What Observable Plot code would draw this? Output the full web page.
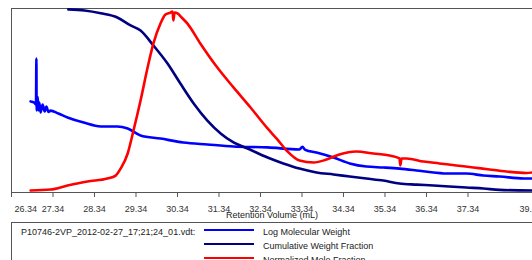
<!DOCTYPE html>
<html>
<head>
<meta charset="utf-8">
<script src="https://cdn.jsdelivr.net/npm/d3@7"></script>
<script src="https://cdn.jsdelivr.net/npm/@observablehq/plot@0.6"></script>
<style>
  html, body { margin: 0; padding: 0; background: #fff; }
  body { width: 532px; height: 260px; overflow: hidden; font-family: "Liberation Sans", Arial, sans-serif; }
  #chart svg { display: block; }
  #legend { position: relative; height: 40px; margin-left: 11px; border-top: 1px solid #555; border-left: 1px solid #555; font-size: 9px; color: #222; }
  #legend .t { position: absolute; line-height: 12px; white-space: nowrap; }
  #legend .sw { position: absolute; width: 50px; height: 0; border-top: 2px solid; }
</style>
</head>
<body>
<div id="chart"></div>
<div id="legend"></div>
<script>
// ---- data (y values as fraction of the plot height) ----
const fileName = "P10746-2VP_2012-02-27_17;21;24_01.vdt:";
const seriesNames = ["Log Molecular Weight", "Cumulative Weight Fraction", "Normalized Mole Fraction"];
const seriesColors = ["#0000ff", "#000080", "#ff0000"];

const tickValues = [26.34, 27.34, 28.34, 29.34, 30.34, 31.34, 32.34, 33.34, 34.34, 35.34, 36.34, 37.34];
const firstTickLabel = "26.34";
const lastTickLabel = "39.34";
const xAxisTitle = "Retention Volume (mL)";

const logMwVolume = [26.80, 26.89, 26.93, 26.94, 26.945, 26.97, 26.99, 27.01, 27.04, 27.09, 27.14, 27.18, 27.23, 27.28, 27.47, 27.69, 28.08, 28.49, 28.89, 29.14, 29.45, 29.93, 30.48, 31.06, 31.69, 32.51, 33.28, 33.35, 33.42, 33.69, 34.10, 34.49, 34.89, 35.30, 35.69, 36.10, 36.51, 36.89, 37.30, 37.71, 38.10, 38.68, 38.89];
const logMwValue  = [0.495, 0.489, 0.478, 0.728, 0.446, 0.520, 0.446, 0.489, 0.435, 0.478, 0.440, 0.467, 0.438, 0.445, 0.429, 0.408, 0.380, 0.359, 0.359, 0.348, 0.310, 0.293, 0.272, 0.261, 0.250, 0.245, 0.234, 0.248, 0.232, 0.217, 0.190, 0.158, 0.141, 0.136, 0.130, 0.120, 0.109, 0.103, 0.103, 0.092, 0.087, 0.076, 0.076];

const cumVolume = [27.71, 28.10, 28.49, 28.89, 29.21, 29.45, 29.76, 30.10, 30.41, 30.73, 31.06, 31.38, 31.69, 32.03, 32.51, 32.89, 33.28, 33.69, 34.10, 34.49, 34.89, 35.30, 35.69, 36.10, 36.51, 36.89, 37.30, 37.71, 38.10, 38.89];
const cumValue  = [0.995, 0.989, 0.974, 0.951, 0.908, 0.880, 0.799, 0.701, 0.592, 0.484, 0.391, 0.321, 0.272, 0.239, 0.190, 0.158, 0.130, 0.109, 0.098, 0.087, 0.076, 0.065, 0.049, 0.043, 0.038, 0.033, 0.027, 0.022, 0.014, 0.011];

const moleVolume = [26.80, 27.28, 27.69, 28.17, 28.65, 28.85, 28.97, 29.14, 29.28, 29.45, 29.62, 29.76, 29.93, 30.05, 30.17, 30.22, 30.24, 30.27, 30.34, 30.44, 30.58, 30.89, 31.30, 31.69, 32.10, 32.51, 32.73, 32.97, 33.28, 33.62, 33.93, 34.24, 34.65, 35.06, 35.45, 35.69, 35.71, 35.74, 35.86, 36.27, 36.65, 37.06, 37.47, 37.86, 38.27, 38.75, 38.89];
const moleValue  = [0.011, 0.016, 0.038, 0.060, 0.076, 0.092, 0.130, 0.212, 0.337, 0.500, 0.679, 0.810, 0.918, 0.967, 0.978, 0.984, 0.935, 0.978, 0.973, 0.951, 0.918, 0.810, 0.679, 0.571, 0.462, 0.348, 0.293, 0.228, 0.174, 0.163, 0.179, 0.207, 0.223, 0.212, 0.201, 0.185, 0.147, 0.185, 0.185, 0.168, 0.158, 0.147, 0.136, 0.125, 0.114, 0.106, 0.109];

// ---- tables ----
const logMwTable = logMwVolume.map((v, i) => ({v, y: logMwValue[i]}));
const cumTable = cumVolume.map((v, i) => ({v, y: cumValue[i]}));
const moleTable = moleVolume.map((v, i) => ({v, y: moleValue[i]}));

const axisColor = "#555";
const lineOpts = {x: "v", y: "y", strokeWidth: 2.6, curve: "monotone-x", strokeLinejoin: "round"};
const chart = Plot.plot({
  width: 532,
  height: 222,
  marginLeft: 11,
  marginRight: 0,
  marginTop: 8,
  marginBottom: 30,
  x: {domain: [26.34, 38.895]},
  y: {domain: [0, 1], axis: null},
  style: {fontFamily: "'Liberation Sans', Arial, sans-serif", fontSize: "9px", color: "#333", background: "#fff", overflow: "hidden"},
  marks: [
    Plot.ruleY([1], {stroke: axisColor}),
    Plot.ruleX([26.34], {stroke: axisColor}),
    Plot.line(logMwTable, {...lineOpts, stroke: seriesColors[0]}),
    Plot.line(cumTable, {...lineOpts, stroke: seriesColors[1]}),
    Plot.line(moleTable, {...lineOpts, stroke: seriesColors[2]}),
    Plot.ruleY([0], {stroke: axisColor}),
    Plot.axisX({ticks: tickValues, tickSize: 5, tickPadding: 8, stroke: axisColor, fill: "#333", label: null,
      tickFormat: d => d === tickValues[0] ? "" : d.toFixed(2)}),
    Plot.text([tickValues[0]], {x: d => d, text: () => firstTickLabel, frameAnchor: "bottom", dy: 13, lineAnchor: "top", textAnchor: "start", dx: 3, fill: "#333"}),
    Plot.text([38.58], {x: d => d, text: () => lastTickLabel, frameAnchor: "bottom", dy: 13, lineAnchor: "top", textAnchor: "start", fill: "#333"}),
    Plot.text([xAxisTitle], {frameAnchor: "bottom", dy: 25.5, fill: "#222"})
  ]
});
document.getElementById("chart").append(chart);

// ---- legend ----
const legend = document.getElementById("legend");
const fn = document.createElement("div");
fn.className = "t"; fn.textContent = fileName; fn.style.left = "9px"; fn.style.top = "3px";
legend.append(fn);
seriesNames.forEach((name, i) => {
  const sw = document.createElement("div");
  sw.className = "sw"; sw.style.left = "192px"; sw.style.top = (6 + 14 * i) + "px"; sw.style.borderTopColor = seriesColors[i];
  legend.append(sw);
  const t = document.createElement("div");
  t.className = "t"; t.textContent = name; t.style.left = "251px"; t.style.top = (3 + 14 * i) + "px";
  legend.append(t);
});
</script>
</body>
</html>
